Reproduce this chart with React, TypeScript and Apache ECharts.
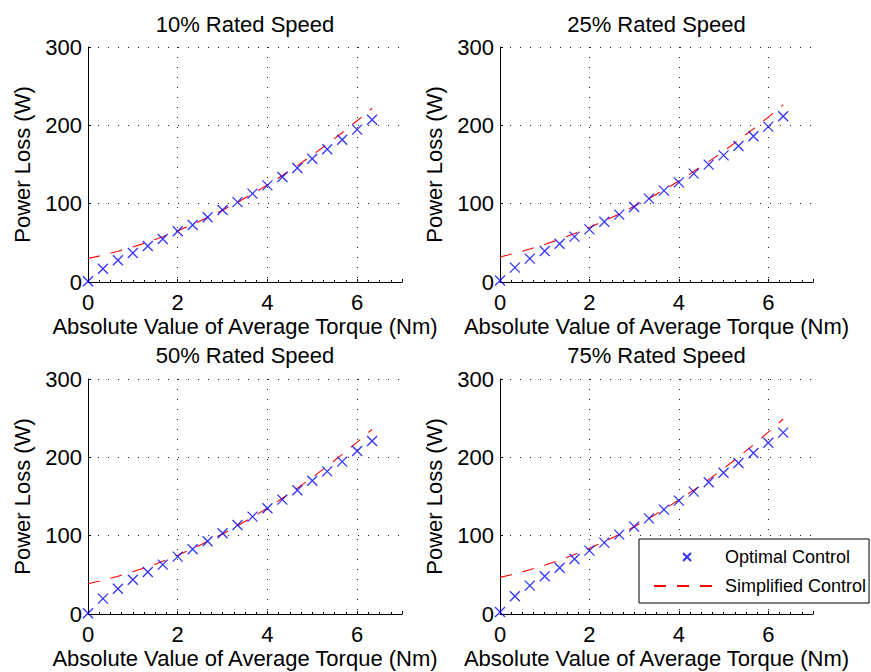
import React, { useEffect, useRef } from 'react';
import * as echarts from 'echarts';

// ---- data ----
const torque = [0, 0.333, 0.667, 1, 1.333, 1.667, 2, 2.333, 2.667, 3, 3.333, 3.667, 4, 4.333, 4.667, 5, 5.333, 5.667, 6, 6.333];

const panelTitles = ['10% Rated Speed', '25% Rated Speed', '50% Rated Speed', '75% Rated Speed'];

const optimal10 = [1, 17, 27.7, 37, 46, 55, 64.7, 72.8, 82.6, 91.9, 102, 112.8, 123.4, 134, 145.5, 157.4, 169.4, 181.7, 194.5, 207.2];
const simplified10 = [30, 34.3, 39.2, 44.7, 50.9, 57.8, 65.3, 73.4, 82.2, 91.7, 101.8, 112.5, 124, 136, 148.6, 162, 176, 190.6, 205.9, 221.8];

const optimal25 = [2, 18.3, 29.8, 39.6, 48.9, 57.9, 67.2, 77, 86, 95.7, 106.4, 116.6, 127.2, 138.3, 149.8, 161.7, 173.6, 186, 198.3, 211.5];
const simplified25 = [32, 36.7, 42.1, 48, 54.6, 61.8, 69.6, 78, 86.9, 96.6, 106.8, 117.6, 129, 141.1, 153.7, 167, 180.9, 195.4, 210.4, 226.1];

const optimal50 = [1, 19.6, 32.3, 43.8, 53.6, 63, 73.2, 82.6, 92.8, 103, 113.6, 124.3, 134.9, 146, 157.9, 170.2, 182.1, 194.5, 208.1, 220.9];
const simplified50 = [38.7, 43.1, 48.2, 53.9, 60.3, 67.4, 75.1, 83.5, 92.5, 102.2, 112.6, 123.6, 135.3, 147.7, 160.7, 174.4, 188.7, 203.7, 219.4, 235.7];

const optimal75 = [2.5, 22.6, 36.2, 48.1, 59.1, 70.2, 80.9, 91.1, 101.3, 111.5, 122.1, 133.2, 144.7, 156.2, 168.1, 180.4, 192.8, 205.5, 218.7, 231.5];
const simplified75 = [46.8, 51.2, 56.4, 62.2, 68.7, 75.9, 83.8, 92.3, 101.6, 111.5, 122.2, 133.5, 145.5, 158.2, 171.6, 185.7, 200.5, 215.9, 232.1, 248.9];

const optimalSets = [optimal10, optimal25, optimal50, optimal75];
const simplifiedSets = [simplified10, simplified25, simplified50, simplified75];

const seriesNames = ['Optimal Control', 'Simplified Control'];
const xAxisTitle = 'Absolute Value of Average Torque (Nm)';
const yAxisTitle = 'Power Loss (W)';

// ---- layout / style ----
const FONT = '"Liberation Sans", Arial, Helvetica, sans-serif';
const gridBoxes = [
  { left: 88, top: 47, width: 314, height: 235 },
  { left: 500, top: 47, width: 313, height: 235 },
  { left: 88, top: 379, width: 314, height: 235 },
  { left: 500, top: 379, width: 313, height: 235 },
];
const titleTops = [13, 13, 344, 344];

const X_SYMBOL = 'path://M0,0L10,10M10,0L0,10';

export default function App() {
  const ref = useRef<HTMLDivElement>(null);

  useEffect(() => {
    if (!ref.current) return;
    const chart = echarts.init(ref.current, undefined, { renderer: 'svg' });

    const grid = gridBoxes.map((g) => ({ ...g, containLabel: false }));

    const title = panelTitles.map((t, i) => ({
      text: t,
      left: gridBoxes[i].left + gridBoxes[i].width / 2,
      top: titleTops[i],
      textAlign: 'center',
      padding: 0,
      textStyle: { fontFamily: FONT, fontSize: 22, fontWeight: 'normal', color: '#000', lineHeight: 22 },
    }));

    const gridLine = { show: true, lineStyle: { color: '#222', width: 1, type: [1, 9] } };

    const xAxis = gridBoxes.map((_, i) => ({
      type: 'value',
      gridIndex: i,
      min: 0,
      max: 7,
      interval: 2,
      name: xAxisTitle,
      nameLocation: 'middle',
      nameGap: 33,
      nameTextStyle: { fontFamily: FONT, fontSize: 22, color: '#000' },
      axisLine: { show: true, onZero: false, lineStyle: { color: '#000', width: 1 } },
      axisTick: { show: true, inside: true, length: 3, lineStyle: { color: '#000' } },
      minorTick: { show: true, splitNumber: 8, length: 2, lineStyle: { color: '#000' } },
      axisLabel: {
        fontFamily: FONT,
        fontSize: 22,
        color: '#000',
        margin: 9,
        showMaxLabel: false,
        formatter: (v: number) => (v === 7 ? '' : String(v)),
      },
      splitLine: { ...gridLine, showMinLine: false, showMaxLine: false },
    }));

    const yAxis = gridBoxes.map((_, i) => ({
      type: 'value',
      gridIndex: i,
      min: 0,
      max: 300,
      interval: 100,
      name: yAxisTitle,
      nameLocation: 'middle',
      nameGap: 55,
      nameTextStyle: { fontFamily: FONT, fontSize: 22, color: '#000' },
      axisLine: { show: true, onZero: false, lineStyle: { color: '#000', width: 1 } },
      axisTick: { show: true, inside: true, length: 3, lineStyle: { color: '#000' } },
      axisLabel: { fontFamily: FONT, fontSize: 22, color: '#000', margin: 6 },
      splitLine: { ...gridLine, showMinLine: false, showMaxLine: true },
    }));

    const series: any[] = [];
    for (let i = 0; i < 4; i++) {
      series.push({
        name: seriesNames[1],
        type: 'line',
        xAxisIndex: i,
        yAxisIndex: i,
        data: torque.map((t, k) => [t, simplifiedSets[i][k]]),
        symbol: 'none',
        showSymbol: false,
        smooth: false,
        clip: false,
        z: 2,
        lineStyle: { color: '#ff0000', width: 1.1, type: [12, 11] },
        itemStyle: { color: '#ff0000' },
      });
      series.push({
        name: seriesNames[0],
        type: 'scatter',
        xAxisIndex: i,
        yAxisIndex: i,
        data: torque.map((t, k) => [t, optimalSets[i][k]]),
        symbol: X_SYMBOL,
        symbolSize: 10,
        clip: false,
        z: 3,
        itemStyle: { color: 'transparent', borderColor: '#0000ff', borderWidth: 1.3 },
      });
    }

    chart.setOption({
      animation: false,
      backgroundColor: '#fff',
      title,
      grid,
      xAxis,
      yAxis,
      series,
      legend: {
        data: [
          { name: seriesNames[0] },
          { name: seriesNames[1], itemStyle: { color: 'transparent', borderColor: 'transparent', borderWidth: 0 } },
        ],
        orient: 'vertical',
        left: 639,
        top: 539,
        padding: [9, 3, 8, 14],
        itemGap: 11,
        itemWidth: 66,
        itemHeight: 8,
        selectedMode: false,
        backgroundColor: '#fff',
        borderColor: '#000',
        borderWidth: 1,
        textStyle: { fontFamily: FONT, fontSize: 18, lineHeight: 18, color: '#000' },
        z: 10,
      },
    });

    return () => {
      chart.dispose();
    };
  }, []);

  return (
    <div
      ref={ref}
      style={{ position: 'absolute', left: 0, top: 0, width: 871, height: 672, background: '#fff' }}
    />
  );
}
